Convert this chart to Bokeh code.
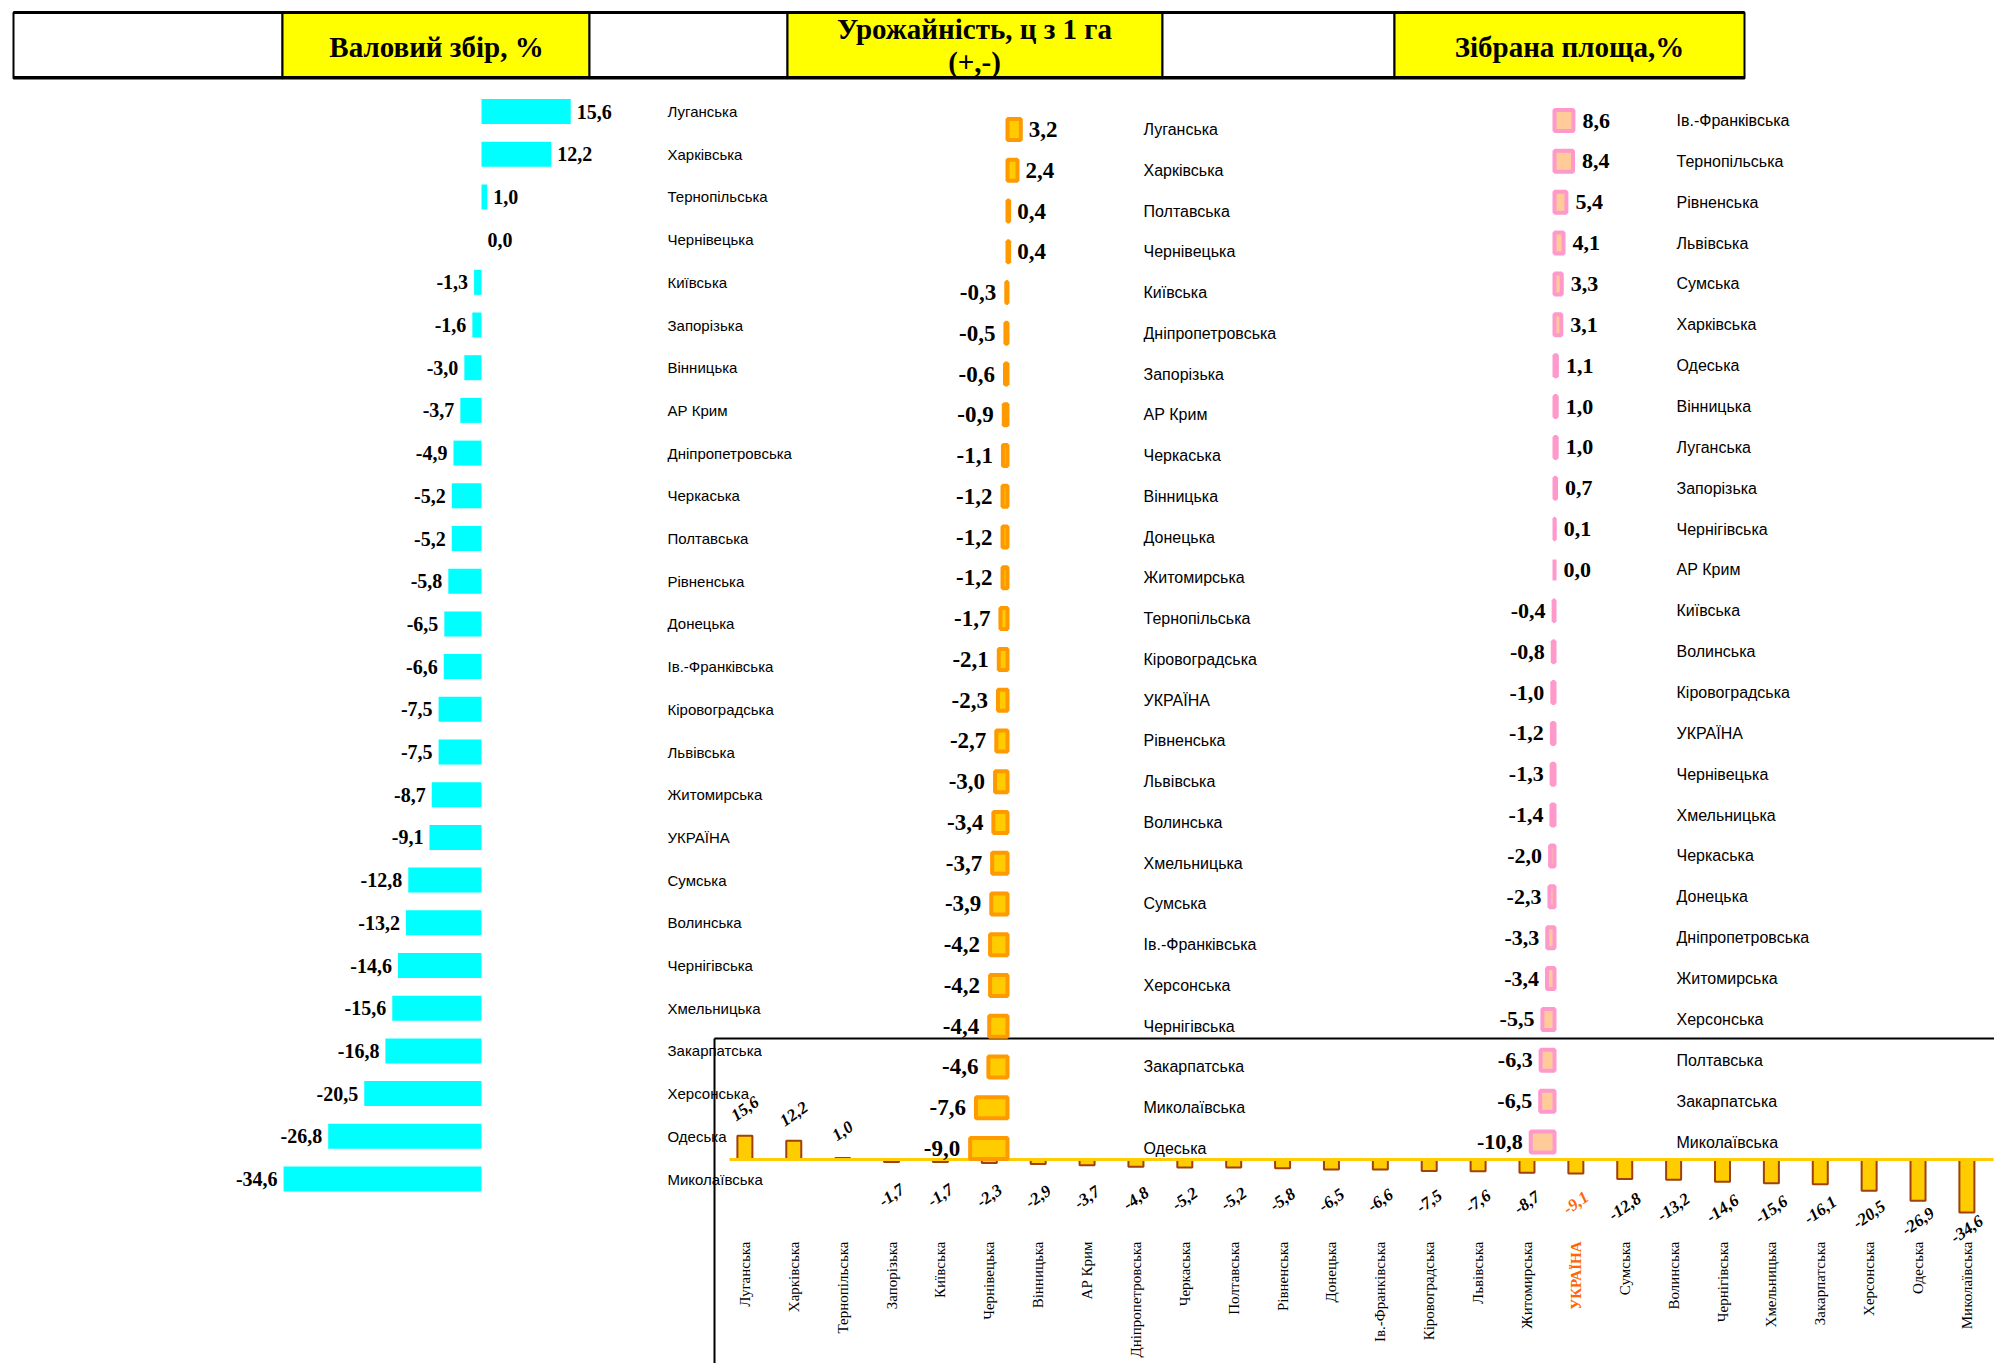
import math
from bokeh.plotting import figure
from bokeh.models import Range1d, ColumnDataSource
from bokeh.core.properties import value
from bokeh.embed import file_html
from bokeh.resources import INLINE

# ---------------- data ----------------
header_titles = ["Валовий збір, %", "Урожайність, ц з 1 га", "(+,-)", "Зібрана площа,%"]

gross_regions = ["Луганська", "Харківська", "Тернопільська", "Чернівецька", "Київська", "Запорізька",
                 "Вінницька", "АР Крим", "Дніпропетровська", "Черкаська", "Полтавська", "Рівненська",
                 "Донецька", "Ів.-Франківська", "Кіровоградська", "Львівська", "Житомирська", "УКРАЇНА",
                 "Сумська", "Волинська", "Чернігівська", "Хмельницька", "Закарпатська", "Херсонська",
                 "Одеська", "Миколаївська"]
gross_values = [15.6, 12.2, 1.0, 0.0, -1.3, -1.6, -3.0, -3.7, -4.9, -5.2, -5.2, -5.8, -6.5, -6.6,
                -7.5, -7.5, -8.7, -9.1, -12.8, -13.2, -14.6, -15.6, -16.8, -20.5, -26.8, -34.6]

yield_regions = ["Луганська", "Харківська", "Полтавська", "Чернівецька", "Київська", "Дніпропетровська",
                 "Запорізька", "АР Крим", "Черкаська", "Вінницька", "Донецька", "Житомирська",
                 "Тернопільська", "Кіровоградська", "УКРАЇНА", "Рівненська", "Львівська", "Волинська",
                 "Хмельницька", "Сумська", "Ів.-Франківська", "Херсонська", "Чернігівська", "Закарпатська",
                 "Миколаївська", "Одеська"]
yield_values = [3.2, 2.4, 0.4, 0.4, -0.3, -0.5, -0.6, -0.9, -1.1, -1.2, -1.2, -1.2, -1.7, -2.1, -2.3,
                -2.7, -3.0, -3.4, -3.7, -3.9, -4.2, -4.2, -4.4, -4.6, -7.6, -9.0]

area_regions = ["Ів.-Франківська", "Тернопільська", "Рівненська", "Львівська", "Сумська", "Харківська",
                "Одеська", "Вінницька", "Луганська", "Запорізька", "Чернігівська", "АР Крим", "Київська",
                "Волинська", "Кіровоградська", "УКРАЇНА", "Чернівецька", "Хмельницька", "Черкаська",
                "Донецька", "Дніпропетровська", "Житомирська", "Херсонська", "Полтавська", "Закарпатська",
                "Миколаївська"]
area_values = [8.6, 8.4, 5.4, 4.1, 3.3, 3.1, 1.1, 1.0, 1.0, 0.7, 0.1, 0.0, -0.4, -0.8, -1.0, -1.2,
               -1.3, -1.4, -2.0, -2.3, -3.3, -3.4, -5.5, -6.3, -6.5, -10.8]

col_regions = ["Луганська", "Харківська", "Тернопільська", "Запорізька", "Київська", "Чернівецька",
               "Вінницька", "АР Крим", "Дніпропетровська", "Черкаська", "Полтавська", "Рівненська",
               "Донецька", "Ів.-Франківська", "Кіровоградська", "Львівська", "Житомирська", "УКРАЇНА",
               "Сумська", "Волинська", "Чернігівська", "Хмельницька", "Закарпатська", "Херсонська",
               "Одеська", "Миколаївська"]
col_values = [15.6, 12.2, 1.0, -1.7, -1.7, -2.3, -2.9, -3.7, -4.8, -5.2, -5.2, -5.8, -6.5, -6.6,
              -7.5, -7.6, -8.7, -9.1, -12.8, -13.2, -14.6, -15.6, -16.1, -20.5, -26.9, -34.6]
highlight = "УКРАЇНА"

# ---------------- layout helpers ----------------
W, H = 1994, 1363
FX0, FY0 = 0, 0   # page position of the canvas origin (as observed)


def h_range(px_zero, px_per_unit):
    start = -(px_zero - FX0) / px_per_unit
    return Range1d(start=start, end=start + W / px_per_unit)


def rows_range(px_row0, px_per_row):
    top = -(px_row0 - FY0) / px_per_row
    return Range1d(start=top + H / px_per_row, end=top)


def up_range(px_zero, px_per_unit):
    top = (px_zero - FY0) / px_per_unit
    return Range1d(start=top - H / px_per_unit, end=top)


def fmt(v):
    return f"{v:.1f}".replace(".", ",")


SERIF = value("Liberation Serif")
SANS = value("Liberation Sans")

p = figure(width=W, height=H, x_range=Range1d(FX0, FX0 + W), y_range=Range1d(FY0 + H, FY0),
           x_axis_type=None, y_axis_type=None, toolbar_location=None, output_backend="svg",
           min_border=0)
p.outline_line_color = None
p.background_fill_color = "white"
p.border_fill_color = "white"

ROW1, ROW2, ROW3 = 42.7, 40.76, 40.86
COLW, COLU = 48.88, 1.53
p.extra_x_ranges = {"x1": h_range(481, 5.72), "x2": h_range(1007, 4.15),
                    "x3": h_range(1554, 2.2), "x4": h_range(744.4, COLW)}
p.extra_y_ranges = {"y1": rows_range(111, ROW1), "y2": rows_range(129, ROW2),
                    "y3": rows_range(120, ROW3), "y4": up_range(1159, COLU)}

# ---------------- header ----------------
edges = [13, 282, 589, 787, 1162, 1394, 1744]
fills = ["white", "#FFFF00", "white", "#FFFF00", "white", "#FFFF00"]
p.quad(left=edges[:-1], right=edges[1:], top=[12] * 6, bottom=[78] * 6,
       fill_color=fills, line_color="black", line_width=2)
p.multi_line(xs=[[13, 1744], [13, 1744]], ys=[[12, 12], [77, 77]], line_color="black", line_width=3)
p.text(x=[436, 974, 974, 1569], y=[46, 28, 61, 46], text=header_titles,
       text_font=SERIF, text_font_style="bold", text_font_size="29px",
       text_align="center", text_baseline="middle", text_color="black")

# ---------------- bottom box (column chart frame) ----------------
p.multi_line(xs=[[714, FX0 + W], [714, 714]], ys=[[1038, 1038], [1038, FY0 + H]],
             line_color="black", line_width=2)

# ---------------- column chart ----------------
xs = list(range(len(col_regions)))
p.vbar(x=xs, top=col_values, bottom=0, width=15 / COLW, fill_color="#FFCC00",
       line_color="#A0400A", line_width=2, x_range_name="x4", y_range_name="y4")
p.line(x=[729, 1993], y=[0, 0], line_color="#FFCC00", line_width=3, y_range_name="y4")

lab_y = [v + 27 / COLU if v >= 0 else -(34 + 1.03 * abs(v)) / COLU for v in col_values]
lab_c = ["#FF6600" if r == highlight else "black" for r in col_regions]
p.text(x=xs, y=lab_y, text=[fmt(v) for v in col_values], angle=math.radians(35),
       text_color=lab_c, text_font=SERIF, text_font_style="bold italic", text_font_size="17px",
       text_align="center", text_baseline="middle", x_range_name="x4", y_range_name="y4")

cat_y = -(1241 - 1159) / COLU
norm = [i for i, r in enumerate(col_regions) if r != highlight]
hi = [i for i, r in enumerate(col_regions) if r == highlight]
p.text(x=norm, y=[cat_y] * len(norm), text=[col_regions[i] for i in norm], angle=math.pi / 2,
       text_font=SERIF, text_font_size="15px", text_color="black",
       text_align="right", text_baseline="middle", x_range_name="x4", y_range_name="y4")
p.text(x=hi, y=[cat_y] * len(hi), text=[col_regions[i] for i in hi], angle=math.pi / 2,
       text_font=SERIF, text_font_style="bold", text_font_size="15px", text_color="#FF6600",
       text_align="right", text_baseline="middle", x_range_name="x4", y_range_name="y4")


# ---------------- horizontal panels ----------------
def panel(regions, vals, xr, yr, row_px, bar_px, fill, line, lw, label_x, cat_size,
          val_size, off_pos, off_neg):
    n = len(regions)
    rows = list(range(n))
    src = ColumnDataSource(dict(y=rows, right=vals))
    p.hbar(y="y", left=0, right="right", height=bar_px / row_px, fill_color=fill,
           line_color=line, line_width=lw, source=src, x_range_name=xr, y_range_name=yr)
    pos = [i for i, v in enumerate(vals) if v >= 0]
    neg = [i for i, v in enumerate(vals) if v < 0]
    common = dict(text_font=SERIF, text_font_style="bold", text_font_size=val_size,
                  text_baseline="middle", text_color="black", x_range_name=xr, y_range_name=yr)
    p.text(x=[vals[i] for i in pos], y=pos, text=[fmt(vals[i]) for i in pos],
           text_align="left", x_offset=off_pos, **common)
    p.text(x=[vals[i] for i in neg], y=neg, text=[fmt(vals[i]) for i in neg],
           text_align="right", x_offset=off_neg, **common)
    p.text(x=[label_x] * n, y=rows, text=regions, text_font=SANS, text_font_size=cat_size,
           text_align="left", text_baseline="middle", text_color="black", y_range_name=yr)


panel(gross_regions, gross_values, "x1", "y1", ROW1, 25, "#00FFFF", None, 0, 667,
      "15px", "20px", 6, -6)
panel(yield_regions, yield_values, "x2", "y2", ROW2, 21, "#FFCC00", "#FF9900", 4, 1143,
      "16px", "23px", 8, -10)
panel(area_regions, area_values, "x3", "y3", ROW3, 21, "#FFCC99", "#FF99CC", 4, 1676,
      "16px", "22px", 9, -8)

open("out.html", "w").write(file_html(p, INLINE))
